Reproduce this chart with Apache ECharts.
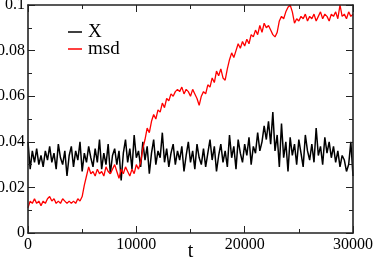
<!DOCTYPE html>
<html>
<head>
<meta charset="utf-8">
<script src="https://cdn.jsdelivr.net/npm/echarts@6/dist/echarts.min.js"></script>
<style>html,body{margin:0;padding:0;background:#fff}#c{width:374px;height:265px}</style>
</head>
<body>
<div id="c"></div>
<script>
// Time sampling: t = 0 .. 30000 every 200
const tStart = 0;
const tStep = 200;

const seriesX = [
  0.040, 0.028, 0.036, 0.031, 0.037, 0.030, 0.034, 0.029, 0.036, 0.032, 0.038,
  0.031, 0.035, 0.028, 0.039, 0.033, 0.030, 0.036, 0.025, 0.034, 0.038,
  0.029, 0.036, 0.032, 0.040, 0.027, 0.035, 0.031, 0.038, 0.033, 0.029,
  0.037, 0.031, 0.041, 0.028, 0.035, 0.030, 0.039, 0.026, 0.034, 0.037,
  0.030, 0.036, 0.023, 0.035, 0.041, 0.031, 0.037, 0.028, 0.043, 0.033,
  0.036, 0.029, 0.040, 0.032, 0.038, 0.026, 0.035, 0.041, 0.030, 0.036,
  0.033, 0.044, 0.031, 0.037, 0.029, 0.035, 0.039, 0.030, 0.036, 0.032,
  0.038, 0.027, 0.034, 0.040, 0.031, 0.036, 0.028, 0.039, 0.033, 0.030,
  0.037, 0.029, 0.035, 0.041, 0.032, 0.038, 0.027, 0.034, 0.039, 0.031,
  0.036, 0.029, 0.043, 0.033, 0.038, 0.028, 0.041, 0.035, 0.031, 0.039,
  0.034, 0.042, 0.030, 0.038, 0.035, 0.044, 0.036, 0.040, 0.047, 0.041,
  0.049, 0.039, 0.053, 0.036, 0.043, 0.029, 0.048, 0.033, 0.040, 0.027,
  0.042, 0.034, 0.039, 0.030, 0.041, 0.035, 0.029, 0.043, 0.036, 0.032,
  0.039, 0.031, 0.046, 0.034, 0.038, 0.030, 0.042, 0.035, 0.040, 0.033,
  0.038, 0.031, 0.036, 0.029, 0.034, 0.032, 0.027, 0.030, 0.040, 0.025
];

const seriesMsd = [
  0.011, 0.014, 0.013, 0.015, 0.013, 0.014, 0.012, 0.014, 0.013, 0.015, 0.016,
  0.014, 0.015, 0.013, 0.014, 0.013, 0.015, 0.014, 0.013, 0.014, 0.013,
  0.014, 0.013, 0.015, 0.014, 0.016, 0.021, 0.025, 0.029, 0.026, 0.027,
  0.025, 0.028, 0.026, 0.027, 0.025, 0.029, 0.027, 0.026, 0.028, 0.030,
  0.027, 0.024, 0.028, 0.026, 0.029, 0.027, 0.025, 0.028, 0.026, 0.030,
  0.028, 0.031, 0.037, 0.041, 0.046, 0.044, 0.049, 0.052, 0.050, 0.054,
  0.053, 0.057, 0.055, 0.059, 0.058, 0.061, 0.060, 0.062, 0.063, 0.062,
  0.064, 0.061, 0.063, 0.062, 0.060, 0.063, 0.061, 0.059, 0.056, 0.060,
  0.062, 0.061, 0.065, 0.064, 0.068, 0.066, 0.071, 0.069, 0.072, 0.068,
  0.067, 0.072, 0.076, 0.079, 0.077, 0.080, 0.083, 0.081, 0.084, 0.082,
  0.085, 0.083, 0.087, 0.086, 0.089, 0.087, 0.091, 0.088, 0.092, 0.090,
  0.091, 0.089, 0.087, 0.086, 0.088, 0.093, 0.095, 0.094, 0.097, 0.099,
  0.100, 0.097, 0.092, 0.094, 0.093, 0.095, 0.094, 0.096, 0.093, 0.095,
  0.094, 0.096, 0.093, 0.095, 0.097, 0.094, 0.096, 0.095, 0.093, 0.096,
  0.095, 0.097, 0.094, 0.100, 0.095, 0.096, 0.094, 0.097, 0.095, 0.096
];

const xTicks = { min: 0, max: 30000, interval: 10000 };
const yTicks = { min: 0, max: 0.1, interval: 0.02 };
const xTickValues = [0, 10000, 20000, 30000];
const xTickLabels = ['0', '10000', '20000', '30000'];
const yTickValues = [0, 0.02, 0.04, 0.06, 0.08, 0.1];
const yTickLabels = ['0', '0.02', '0.04', '0.06', '0.08', '0.1'];
const legendNames = ['X', 'msd'];
const seriesColors = ['#000000', '#ff0000'];
const xName = 't';

function pairs(vals) {
  return vals.map((v, i) => [tStart + i * tStep, v]);
}

const lineCol = '#222';
function tickOpts(inside) {
  return {
    axisTick: { show: true, inside: inside, length: 7, lineStyle: { color: lineCol, width: 1 } },
    minorTick: { show: true, splitNumber: 2, length: 4, lineStyle: { color: lineCol, width: 1 } }
  };
}
const helperLine = { axisLine: { show: false, onZero: false }, axisLabel: { show: false }, z: 10 };

// grid 0 is the plot; grids 1..4 are thin helpers on each edge whose outward ticks point into the plot
const grids = [
  { left: 28, right: 21, top: 5, bottom: 32 },
  { left: 0, width: 28, top: 5, bottom: 32 },
  { left: 353, right: 0, top: 5, bottom: 32 },
  { left: 28, right: 21, top: 0, height: 5 },
  { left: 28, right: 21, top: 233, bottom: 0 }
].map(g => Object.assign({ containLabel: false, outerBoundsMode: 'none', show: false }, g));

function xBase(gi, pos) {
  return { type: 'value', gridIndex: gi, position: pos, min: xTicks.min, max: xTicks.max, interval: xTicks.interval, splitLine: { show: false } };
}
function yBase(gi, pos) {
  return { type: 'value', gridIndex: gi, position: pos, min: yTicks.min, max: yTicks.max, interval: yTicks.interval, splitLine: { show: false } };
}
const frameLine = { show: true, onZero: false, lineStyle: { color: lineCol, width: 1.6 } };

const xAxes = [
  Object.assign(xBase(0, 'bottom'), tickOpts(true), { axisLine: frameLine, axisLabel: { show: false }, z: 10 }),
  Object.assign(xBase(0, 'top'), tickOpts(true), { axisLine: frameLine, axisLabel: { show: false }, z: 10 }),
  Object.assign(xBase(1, 'bottom'), { show: false }),
  Object.assign(xBase(2, 'bottom'), { show: false }),
  Object.assign(xBase(3, 'bottom'), tickOpts(false), helperLine),
  Object.assign(xBase(4, 'top'), tickOpts(false), helperLine)
];
const yAxes = [
  Object.assign(yBase(0, 'left'), tickOpts(true), { axisLine: frameLine, axisLabel: { show: false }, z: 10 }),
  Object.assign(yBase(0, 'right'), tickOpts(true), { axisLine: frameLine, axisLabel: { show: false }, z: 10 }),
  Object.assign(yBase(1, 'right'), tickOpts(false), helperLine),
  Object.assign(yBase(2, 'left'), tickOpts(false), helperLine),
  Object.assign(yBase(3, 'left'), { show: false }),
  Object.assign(yBase(4, 'left'), { show: false })
];

const chart = echarts.init(document.getElementById('c'), null, { renderer: 'canvas' });
chart.setOption({
  animation: false,
  backgroundColor: '#fff',
  grid: grids,
  xAxis: xAxes,
  yAxis: yAxes,
  series: [
    { name: legendNames[0], type: 'line', data: pairs(seriesX), showSymbol: false, symbol: 'none',
      lineStyle: { color: seriesColors[0], width: 1.5 }, xAxisIndex: 0, yAxisIndex: 0 },
    { name: legendNames[1], type: 'line', data: pairs(seriesMsd), showSymbol: false, symbol: 'none',
      lineStyle: { color: seriesColors[1], width: 1.3 }, xAxisIndex: 0, yAxisIndex: 0 }
  ]
});

// Serif text placed through the plot's own scales
const serif = px => px + 'px "Liberation Serif"';
function txt(x, y, text, size, align, valign) {
  return { type: 'text', x: x, y: y, silent: true, z: 20,
    style: { text: text, font: serif(size), fill: '#000', align: align, verticalAlign: valign } };
}
const toPx = (xv, yv) => chart.convertToPixel({ gridIndex: 0 }, [xv, yv]);
const els = [];
const origin = toPx(xTicks.min, yTicks.min);
xTickValues.forEach((v, i) => els.push(txt(toPx(v, yTicks.min)[0], origin[1] + 4, xTickLabels[i], 16, 'center', 'top')));
yTickValues.forEach((v, i) => els.push(txt(origin[0] - 3, toPx(xTicks.min, v)[1], yTickLabels[i], 16, 'right', 'middle')));
els.push(txt(toPx((xTicks.min + xTicks.max) / 2, yTicks.min)[0], origin[1] + 19, xName, 20, 'center', 'middle'));
// legend
const legendY = [32, 49];
legendNames.forEach((n, i) => {
  els.push({ type: 'line', silent: true, z: 20, shape: { x1: 68, y1: legendY[i], x2: 82, y2: legendY[i] },
    style: { stroke: seriesColors[i], lineWidth: 1.5 } });
  els.push(txt(88, legendY[i], n, 19, 'left', 'middle'));
});
chart.setOption({ graphic: els });
</script>
</body>
</html>
